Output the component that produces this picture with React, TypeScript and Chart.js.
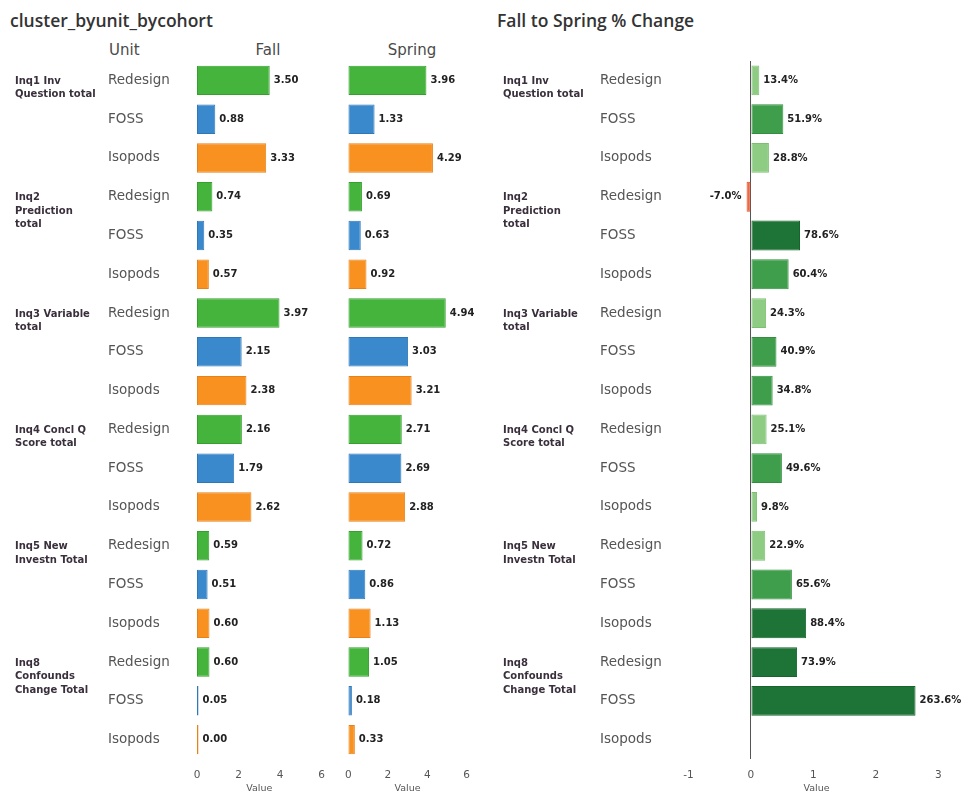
import React, { useEffect, useRef } from 'react';
import { Chart, registerables } from 'chart.js';

Chart.register(...registerables);

// ---------- data ----------
const units = ['Redesign', 'FOSS', 'Isopods'];
const groupLabels = [
  ['Inq1 Inv', 'Question total'],
  ['Inq2', 'Prediction', 'total'],
  ['Inq3 Variable', 'total'],
  ['Inq4 Concl Q', 'Score total'],
  ['Inq5 New', 'Investn Total'],
  ['Inq8', 'Confounds', 'Change Total'],
];
const rowLabels = groupLabels.flatMap(() => units);
const fallValues = [3.5, 0.88, 3.33, 0.74, 0.35, 0.57, 3.97, 2.15, 2.38, 2.16, 1.79, 2.62, 0.59, 0.51, 0.6, 0.6, 0.05, 0.0];
const springValues = [3.96, 1.33, 4.29, 0.69, 0.63, 0.92, 4.94, 3.03, 3.21, 2.71, 2.69, 2.88, 0.72, 0.86, 1.13, 1.05, 0.18, 0.33];
const pctChange = [0.134, 0.519, 0.288, -0.07, 0.786, 0.604, 0.243, 0.409, 0.348, 0.251, 0.496, 0.098, 0.229, 0.656, 0.884, 0.739, 2.636, null];
const cohortTicks = [0, 2, 4, 6];
const changeTicks = [-1, 0, 1, 2, 3];

// ---------- styles ----------
const unitColors: Record<string, string> = { Redesign: '#45b43c', FOSS: '#3b89cd', Isopods: '#f8911f' };
const unitBorders: Record<string, string> = { Redesign: '#36a02f', FOSS: '#2f78b8', Isopods: '#e7821a' };
const changeColor = (v: number | null) => {
  if (v == null) return '#2e8b3e';
  if (v < 0) return '#f0643f';
  if (v < 0.3) return '#8dcc82';
  if (v < 0.7) return '#3f9e4b';
  return '#1e7336';
};
const changeBorder = (v: number | null) => {
  if (v == null) return '#2e8b3e';
  if (v < 0) return '#e0552f';
  if (v < 0.3) return '#7cbf71';
  if (v < 0.7) return '#338f3f';
  return '#17652d';
};

const LABEL_FONT = '"DejaVu Sans", sans-serif';

function valueLabelPlugin(fmt: (v: number) => string) {
  return {
    id: 'valueLabels',
    afterDatasetsDraw(chart: any) {
      const ctx = chart.ctx;
      const ds = chart.data.datasets[0];
      const meta = chart.getDatasetMeta(0);
      ctx.save();
      ctx.font = 'bold 10px ' + LABEL_FONT;
      ctx.fillStyle = '#222';
      ctx.textBaseline = 'middle';
      meta.data.forEach((bar: any, i: number) => {
        const v = ds.data[i];
        if (v == null) return;
        const props = bar.getProps(['x', 'y', 'base'], true);
        const end = v >= 0 ? Math.max(props.x, props.base) : Math.min(props.x, props.base);
        if (v >= 0) {
          ctx.textAlign = 'left';
          ctx.fillText(fmt(v), end + 4, props.y);
        } else {
          ctx.textAlign = 'right';
          ctx.fillText(fmt(v), end - 5, props.y);
        }
      });
      ctx.restore();
    },
  };
}

function groupLabelPlugin(x: number) {
  return {
    id: 'groupLabels',
    afterDraw(chart: any) {
      const ctx = chart.ctx;
      const yScale = chart.scales.y;
      ctx.save();
      ctx.font = 'bold 10px ' + LABEL_FONT;
      ctx.fillStyle = '#3a2f3c';
      ctx.textAlign = 'left';
      ctx.textBaseline = 'middle';
      groupLabels.forEach((lines, g) => {
        const y0 = yScale.getPixelForValue(g * units.length);
        lines.forEach((line, k) => ctx.fillText(line, x, y0 + 1 + k * 13.5));
      });
      ctx.restore();
    },
  };
}

function xScale(min: number, max: number, ticks: number[], zeroLine: boolean) {
  return {
    type: 'linear',
    min,
    max,
    afterBuildTicks: (s: any) => {
      s.ticks = ticks.map((v) => ({ value: v }));
    },
    afterFit: (s: any) => {
      s.height = 35;
    },
    ticks: {
      font: { family: LABEL_FONT, size: 10.5 },
      color: '#555',
      padding: 10,
      maxRotation: 0,
      callback: (v: any) => String(v),
    },
    grid: zeroLine
      ? {
          display: true,
          drawTicks: false,
          lineWidth: 1,
          color: (c: any) => (c.tick && c.tick.value === 0 ? '#555' : 'rgba(0,0,0,0)'),
        }
      : { display: false, drawTicks: false },
    border: { display: false },
    title: {
      display: true,
      text: 'Value',
      font: { family: LABEL_FONT, size: 9.5 },
      color: '#555',
      padding: { top: 0, bottom: 0 },
    },
  };
}

function yScale(show: boolean, width: number) {
  return {
    type: 'category',
    display: show,
    afterFit: (s: any) => {
      s.width = width;
      s.paddingTop = 0;
      s.paddingBottom = 0;
    },
    ticks: {
      crossAlign: 'far',
      font: { family: LABEL_FONT, size: 13.5 },
      color: '#555',
      padding: 0,
    },
    grid: { display: false, drawTicks: false },
    border: { display: false },
  };
}

function useChart(ref: React.RefObject<HTMLCanvasElement>, build: () => any) {
  useEffect(() => {
    if (!ref.current) return;
    const chart = new Chart(ref.current, build());
    return () => chart.destroy();
  }, []);
}

function cohortConfig(values: number[], showY: boolean, padLeft: number, padRight: number, yWidth: number, groupX: number | null) {
  const plugins: any[] = [valueLabelPlugin((v) => v.toFixed(2))];
  if (groupX != null) plugins.push(groupLabelPlugin(groupX));
  return {
    type: 'bar',
    data: {
      labels: rowLabels,
      datasets: [
        {
          data: values,
          backgroundColor: rowLabels.map((u) => unitColors[u]),
          borderColor: rowLabels.map((u) => unitBorders[u]),
          borderWidth: 1,
          borderSkipped: false,
          minBarLength: 1.5,
          categoryPercentage: 1,
          barPercentage: 0.76,
        },
      ],
    },
    options: {
      indexAxis: 'y',
      animation: false,
      responsive: false,
      maintainAspectRatio: false,
      layout: { padding: { left: padLeft, right: padRight, top: 0, bottom: 0 } },
      plugins: { legend: { display: false }, tooltip: { enabled: false } },
      scales: {
        x: xScale(0, 6, cohortTicks, false),
        y: yScale(showY, yWidth),
      },
    },
    plugins,
  };
}

function changeConfig() {
  return {
    type: 'bar',
    data: {
      labels: rowLabels,
      datasets: [
        {
          data: pctChange,
          backgroundColor: pctChange.map((v) => changeColor(v)),
          borderColor: pctChange.map((v) => changeBorder(v)),
          borderWidth: 1,
          borderSkipped: false,
          categoryPercentage: 1,
          barPercentage: 0.77,
        },
      ],
    },
    options: {
      indexAxis: 'y',
      animation: false,
      responsive: false,
      maintainAspectRatio: false,
      layout: { padding: { left: 120, right: 8, top: 0, bottom: 0 } },
      plugins: { legend: { display: false }, tooltip: { enabled: false } },
      scales: {
        x: xScale(-1.2, 3.3, changeTicks, true),
        y: yScale(true, 76),
      },
    },
    plugins: [valueLabelPlugin((v) => (v * 100).toFixed(1) + '%'), groupLabelPlugin(23)],
  };
}

const CHART_TOP = 61;
const CHART_H = 733;

export default function App() {
  const fallRef = useRef<HTMLCanvasElement>(null);
  const springRef = useRef<HTMLCanvasElement>(null);
  const changeRef = useRef<HTMLCanvasElement>(null);

  useChart(fallRef, () => cohortConfig(fallValues, true, 108, 11, 89, 15));
  useChart(springRef, () => cohortConfig(springValues, false, 6.5, 12, 0, null));
  useChart(changeRef, changeConfig);

  const headerStyle: React.CSSProperties = {
    position: 'absolute',
    top: 41,
    fontFamily: LABEL_FONT,
    fontSize: 15,
    color: '#4a4a4a',
    lineHeight: '18px',
    whiteSpace: 'nowrap',
  };
  const titleStyle: React.CSSProperties = {
    position: 'absolute',
    top: 9,
    fontFamily: '"Open Sans", sans-serif',
    fontWeight: 600,
    fontSize: 17.5,
    color: '#333',
    lineHeight: '22px',
    whiteSpace: 'nowrap',
  };

  return (
    <div style={{ position: 'absolute', left: 0, top: 0, width: 965, height: 794, background: '#fff', overflow: 'hidden' }}>
      <div style={{ ...titleStyle, left: 10 }}>cluster_byunit_bycohort</div>
      <div style={{ ...titleStyle, left: 497 }}>Fall to Spring % Change</div>
      <div style={{ ...headerStyle, left: 109 }}>Unit</div>
      <div style={{ ...headerStyle, left: 218, width: 100, textAlign: 'center' }}>Fall</div>
      <div style={{ ...headerStyle, left: 362, width: 100, textAlign: 'center' }}>Spring</div>
      <canvas ref={fallRef} width={335} height={CHART_H} style={{ position: 'absolute', left: 0, top: CHART_TOP }} />
      <canvas ref={springRef} width={145} height={CHART_H} style={{ position: 'absolute', left: 335, top: CHART_TOP }} />
      <canvas ref={changeRef} width={485} height={CHART_H} style={{ position: 'absolute', left: 480, top: CHART_TOP }} />
    </div>
  );
}
